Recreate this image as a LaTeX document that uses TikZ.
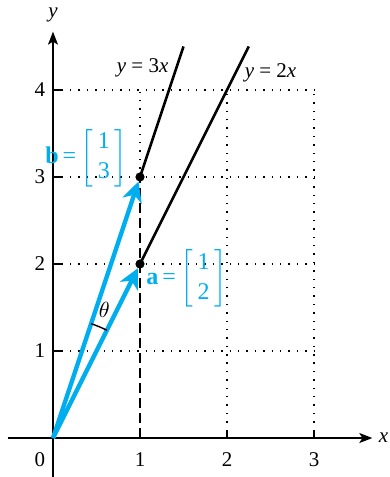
\documentclass[tikz,border=0pt]{standalone}
\usepackage{amsmath}
\usepackage{amssymb}
\usepackage{fontspec}
\setmainfont{Liberation Serif}
\usetikzlibrary{arrows.meta}

\definecolor{vecblue}{RGB}{0,174,239}
\newcommand{\colvec}[2]{$\left[\begin{tabular}{@{\hspace{2.5pt}}c@{\hspace{2.5pt}}}#1\\[1pt] #2\end{tabular}\right]$}

\begin{document}
\begin{tikzpicture}[x=1.53cm, y=1.53cm, >=Stealth, font=\fontsize{10.5}{12}\selectfont,
  gridline/.style={line width=0.7pt, dash pattern=on 0.7pt off 3.5pt},
  axisline/.style={line width=0.7pt, -{Stealth[length=6.5pt, width=5pt, inset=1.5pt]}},
  vecline/.style={line width=2.2pt, vecblue,
    -{Stealth[length=10pt, width=10pt, inset=3pt]}, shorten >=2.4pt},
  dotmark/.style={circle, fill=black, inner sep=0pt, minimum size=4.6pt}]

\useasboundingbox (-0.609,-0.448) rectangle (3.862,5.034);

% --- Grid lines ---
\foreach \y in {1, 2, 3, 4} {
  \draw[gridline] (0.1, \y) -- (3, \y);
  \draw[line width=0.7pt] (0, \y) -- (0.1, \y);
}
\foreach \x in {2, 3} {
  \draw[gridline] (\x, 0.08) -- (\x, 4);
  \draw[line width=0.7pt] (\x, 0) -- (\x, 0.08);
}
\draw[gridline] (1, 3) -- (1, 4);
\draw[line width=0.7pt, dash pattern=on 5pt off 2.5pt] (1, 0) -- (1, 3);

% --- Axes ---
\draw[axisline] (-0.52, 0) -- (3.67, 0);
\draw[axisline] (0, -0.45) -- (0, 4.67);
\node (xlab) at (3.8, 0) {\textit{x}};
\node (ylab) at (0, 4.86) {\textit{y}};

% --- Tick labels ---
\node (t0) at (-0.15, -0.25) {0};
\foreach \x in {1, 2, 3} {
  \node (tx\x) at (\x, -0.25) {\x};
}
\foreach \y in {1, 2, 3, 4} {
  \node (ty\y) at (-0.15, \y) {\y};
}

% --- Points and lines y = 2x, y = 3x ---
\coordinate (O) at (0, 0);
\coordinate (top2) at (2.25, 4.5);
\coordinate (top3) at (1.5, 4.5);
\node[dotmark] (A) at (1, 2) {};
\node[dotmark] (B) at (1, 3) {};
\draw[line width=1.3pt] (A.center) -- (top2);
\draw[line width=1.3pt] (B.center) -- (top3);
\node (l2) at (2.5, 4.2) {\textit{y} = 2\textit{x}};
\node (l3) at (1.03, 4.25) {\textit{y} = 3\textit{x}};

% --- Vectors ---
\draw[vecline] (O) -- (A.center);
\draw[vecline] (O) -- (B.center);
\node[vecblue, anchor=east, inner sep=0pt] (blab) at (0.86, 3.22)
  {\fontsize{12}{14}\selectfont\textbf{b}\,=\,\colvec{1}{3}};
\node[vecblue, anchor=west, inner sep=0pt] (alab) at (1.07, 1.83)
  {\fontsize{12}{14}\selectfont\textbf{a}\,=\,\colvec{1}{2}};

% --- Angle ---
\draw[line width=0.7pt] (71.565:1.385) arc[start angle=71.565, end angle=63.435, radius=1.385];
\node (th) at (0.59, 1.47) {$\theta$};

\end{tikzpicture}
\end{document}
